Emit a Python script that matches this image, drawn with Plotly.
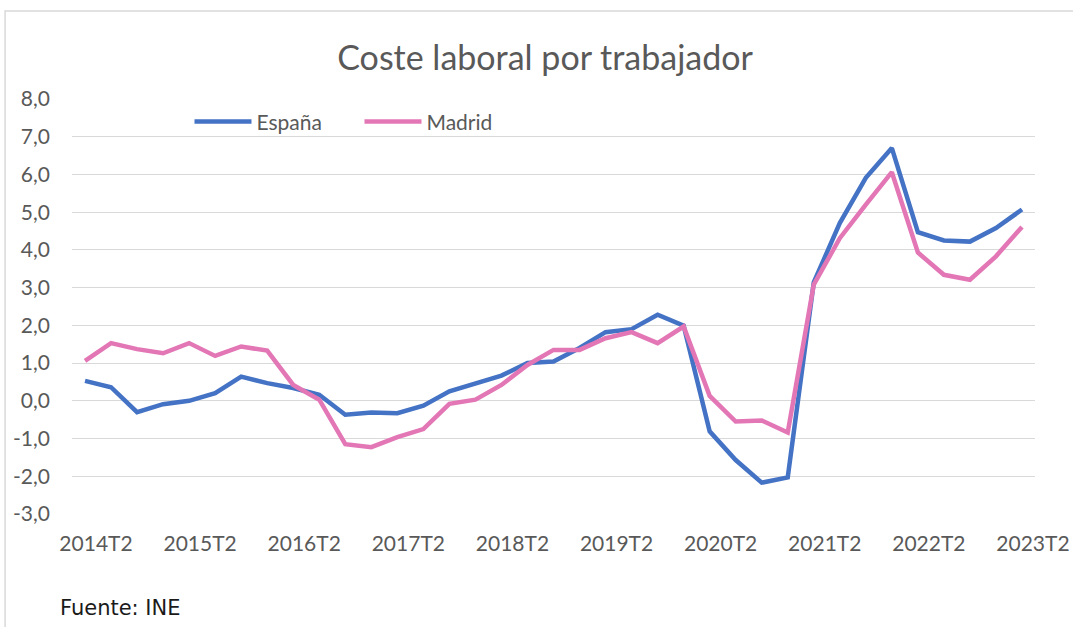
import plotly.graph_objects as go

quarters = []
for yr in range(2014, 2024):
    for q in range(1, 5):
        quarters.append(f"{yr}T{q}")
quarters = quarters[1:38]  # 2014T2 .. 2023T2

espana = [0.53, 0.36, -0.30, -0.09, 0.00, 0.20, 0.64, 0.47, 0.34, 0.16, -0.37, -0.31,
          -0.33, -0.13, 0.25, 0.45, 0.67, 1.00, 1.04, 1.40, 1.82, 1.90, 2.28, 1.99,
          -0.81, -1.57, -2.17, -2.03, 3.14, 4.71, 5.91, 6.70, 4.47, 4.25, 4.22, 4.58, 5.07]
madrid = [1.06, 1.53, 1.37, 1.26, 1.53, 1.19, 1.44, 1.33, 0.42, 0.03, -1.15, -1.23,
          -0.96, -0.75, -0.08, 0.03, 0.42, 0.95, 1.35, 1.35, 1.66, 1.82, 1.53, 1.97,
          0.13, -0.55, -0.52, -0.84, 3.08, 4.31, 5.20, 6.06, 3.93, 3.34, 3.21, 3.83, 4.61]

tick_labels = [q for q in quarters if q.endswith("T2")]
y_ticks = [8, 7, 6, 5, 4, 3, 2, 1, 0, -1, -2, -3]
y_tick_text = [f"{v:.1f}".replace(".", ",") for v in y_ticks]

fig = go.Figure()
fig.add_trace(go.Scatter(x=quarters, y=espana, mode="lines", name="España",
                         line=dict(color="#4472C4", width=4.5)))
fig.add_trace(go.Scatter(x=quarters, y=madrid, mode="lines", name="Madrid",
                         line=dict(color="#E377B6", width=4.5)))

fig.update_layout(
    width=1073, height=627,
    margin=dict(l=72, r=38, t=99, b=113),
    paper_bgcolor="white", plot_bgcolor="white",
    separators=",.",
    font=dict(family="Lato", color="#595959", size=21),
    title=dict(text="Coste laboral por trabajador", x=0.508, xanchor="center",
               y=0.907, yanchor="middle",
               font=dict(family="Lato", size=34, color="#595959")),
    legend=dict(orientation="h", x=0.122, xanchor="left", y=0.945, yanchor="middle",
                bgcolor="rgba(0,0,0,0)", font=dict(size=21, color="#595959"),
                itemwidth=57, tracegroupgap=0,
                entrywidth=98, entrywidthmode="pixels"),
    showlegend=True,
    xaxis=dict(type="category", range=[-0.5, 36.5], tickmode="array",
               tickvals=tick_labels, ticktext=tick_labels, showgrid=False,
               showline=False, ticks="", zeroline=False, tickangle=0,
               ticklabelstandoff=15, ticklabelshift=11, automargin=False,
               tickfont=dict(size=21, color="#595959")),
    yaxis=dict(range=[-3, 8], tickmode="array", tickvals=y_ticks, ticktext=y_tick_text,
               showgrid=True, gridcolor="#D9D9D9", gridwidth=1.3, zeroline=False,
               showline=False, ticks="", ticklabelstandoff=21, automargin=False,
               tickfont=dict(size=21, color="#595959")),
    shapes=[dict(type="rect", xref="paper", yref="paper",
                 x0=-0.0695, x1=1.1, y0=-0.4, y1=1.212,
                 line=dict(color="#D9D9D9", width=1.5), fillcolor="rgba(0,0,0,0)",
                 layer="below")],
    annotations=[dict(text="Fuente: INE", xref="paper", yref="paper",
                      x=-0.0145, y=-0.226, xanchor="left", yanchor="middle",
                      showarrow=False,
                      font=dict(family="DejaVu Sans", size=21, color="#1a1a1a"))],
)

fig.write_html("out.html", config={"displayModeBar": False},
               post_script="document.body.style.margin='0';document.body.style.overflow='hidden';")
